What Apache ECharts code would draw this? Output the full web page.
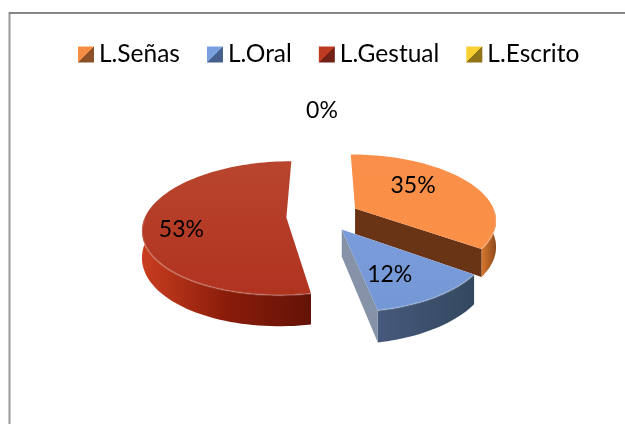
<!DOCTYPE html>
<html><head><meta charset="utf-8"><style>html,body{margin:0;padding:0;background:#fff}#c{width:625px;height:424px}</style>
<script src="https://cdn.jsdelivr.net/npm/echarts@6/dist/echarts.min.js"></script></head>
<body><div id="c"></div><script>
const categories = ['L.Señas', 'L.Oral', 'L.Gestual', 'L.Escrito'];
const values = [35, 12, 53, 0];
const labelsText = ['35%', '12%', '53%', '0%'];
const labelShift = [[58, -23], [48, 45], [-105, 12], [-1, -92]];
const explodeBy = [0.26, 0.24, 0.26, 0.22];
const topColors = [['#F98F49', '#FB9047'], ['#7A9CDA', '#7497D5'], ['#B9452E', '#B03320'], ['#FFD633', '#E0B020']];
const wallColors = [['#D9772F', '#8E4A1C'], ['#46597C', '#33485F'], ['#C93E20', '#8A1C0A', '#641307'], ['#8A7010', '#6A5410']];
const faceColors = ['#693416', '#8692A8', '#6A1508', '#6A5410'];
const legendColors = [['#F58D45', '#8C5128'], ['#7BA0E0', '#465F8C'], ['#BE3A20', '#702014'], ['#F8D030', '#8F7518']];

const cx = 323, cy = 216, a = 141, b = 64.8, k = 0.158, depth = 26;
const total = values.reduce((s, v) => s + v, 0);
const rad = d => d * Math.PI / 180;
const proj = (u, v, drop) => {
  const w = 1 - k * v;
  return [cx + a * u / w, cy + b * v / w + (drop ? depth / w : 0)];
};
function vgrad(c, horiz) {
  return { type: 'linear', x: 0, y: 0, x2: horiz ? 1 : 0, y2: horiz ? 0 : 1, colorStops: c.map((col, i) => ({ offset: i / (c.length - 1), color: col })) };
}
function slice(i) {
  let acc = 0;
  for (let j = 0; j < i; j++) acc += values[j];
  const s = acc / total * 360, e = (acc + values[i]) / total * 360, m = (s + e) / 2;
  const ox = explodeBy[i] * Math.sin(rad(m)), oy = -explodeBy[i] * Math.cos(rad(m));
  const rim = (t, drop) => proj(ox + Math.sin(rad(t)), oy - Math.cos(rad(t)), drop);
  const apex = proj(ox, oy, false), apexD = proj(ox, oy, true);
  const kids = [];
  if (values[i] > 0) {
    const arc = [];
    for (let t = s; t < e; t += 2) arc.push(t);
    arc.push(e);
    const wallT = arc.filter(t => t >= 90 && t <= 270);
    if (s <= 90 && e >= 90 && wallT[0] !== 90) wallT.unshift(90);
    if (s <= 270 && e >= 270 && wallT[wallT.length - 1] !== 270) wallT.push(270);
    if (wallT.length > 1) {
      const pts = wallT.map(t => rim(t, false)).concat(wallT.slice().reverse().map(t => rim(t, true)));
      kids.push({ type: 'polygon', shape: { points: pts }, style: { fill: vgrad(wallColors[i], true) } });
    }
    if (Math.sin(rad(e)) > 0.01) {
      kids.push({ type: 'polygon', shape: { points: [apex, rim(e, false), rim(e, true), apexD] }, style: { fill: faceColors[i] } });
    }
    const top = [apex].concat(arc.map(t => rim(t, false)));
    kids.push({ type: 'polygon', shape: { points: top }, style: { fill: vgrad(topColors[i], false) } });
    if (wallT.length > 1) {
      kids.push({ type: 'polyline', shape: { points: wallT.map(t => rim(t, false)) }, style: { fill: null, stroke: 'rgba(255,255,255,0.18)', lineWidth: 2 } });
    }
  }
  kids.push({ type: 'text', z2: 50, style: { x: apex[0] + labelShift[i][0], y: apex[1] + labelShift[i][1], text: labelsText[i], fill: '#000', font: '23px Lato', align: 'center', verticalAlign: 'middle' } });
  return { type: 'group', children: kids };
}
const chart = echarts.init(document.getElementById('c'), null, { renderer: 'canvas' });
chart.setOption({
  animation: false,
  backgroundColor: '#fff',
  legend: {
    left: 78, top: 42, padding: 0, itemWidth: 16, itemHeight: 16, itemGap: 27, selectedMode: false, icon: 'rect',
    textStyle: { fontFamily: 'Lato', fontSize: 24.5, color: '#000', padding: [0, 0, 0, 0] },
    data: categories.map((n, i) => ({ name: n, itemStyle: { color: { type: 'linear', x: 0, y: 0, x2: 1, y2: 1, colorStops: [{ offset: 0, color: legendColors[i][0] }, { offset: .5, color: legendColors[i][0] }, { offset: .5, color: legendColors[i][1] }, { offset: 1, color: legendColors[i][1] }] } } }))
  },
  graphic: [
    { type: 'line', shape: { x1: 9.5, y1: 12, x2: 9.5, y2: 424 }, style: { stroke: '#999', lineWidth: 2 }, silent: true },
    { type: 'line', shape: { x1: 9, y1: 13, x2: 625, y2: 13 }, style: { stroke: '#868686', lineWidth: 2 }, silent: true }
  ],
  series: categories.map((n, i) => ({
    name: n, type: 'custom', coordinateSystem: 'none', silent: true, z: i === 1 ? 3 : 2,
    itemStyle: { color: legendColors[i][0] },
    data: [[values[i]]],
    renderItem: () => slice(i)
  }))
});
</script></body></html>
